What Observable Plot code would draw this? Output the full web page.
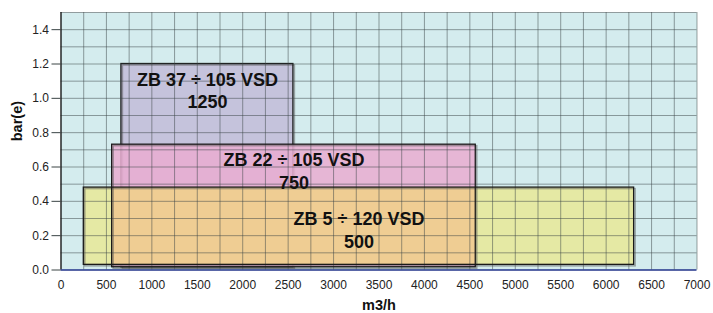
<!DOCTYPE html>
<html><head><meta charset="utf-8">
<script src="https://cdn.jsdelivr.net/npm/d3@7"></script>
<script src="https://cdn.jsdelivr.net/npm/@observablehq/plot@0.6"></script>
<style>
html,body{margin:0;padding:0;background:#fff;}
body{font-family:"Liberation Sans",Arial,sans-serif;}
</style>
</head><body><div id="chart"></div>
<script>
// ---- data ----
const models = ["ZB 37 ÷ 105 VSD", "ZB 22 ÷ 105 VSD", "ZB 5 ÷ 120 VSD"];
const powers = ["1250", "750", "500"];
const flowMin = [665, 563, 251];      // m3/h
const flowMax = [2558, 4565, 6308];   // m3/h
const pressMin = [0.016, 0.016, 0.030]; // bar(e)
const pressMax = [1.2, 0.73, 0.48];     // bar(e)
const labelPress = [1.05, 0.58, 0.236]; // label block centre
const boxFills = ["#c5c3dc", "#e8aed1", "#e7e899"];
const overlapFill = "#efcb91";
const xTicks = [0, 500, 1000, 1500, 2000, 2500, 3000, 3500, 4000, 4500, 5000, 5500, 6000, 6500, 7000];
const yTicks = [0, 0.2, 0.4, 0.6, 0.8, 1.0, 1.2, 1.4];
const xGrid = d3.range(0, 7001, 250);
const yGrid = d3.range(0, 15).map(i => +(i / 10 + 0.1).toFixed(1));

const boxes = models.map((m, i) => ({
  model: m, power: powers[i], x1: flowMin[i], x2: flowMax[i],
  y1: pressMin[i], y2: pressMax[i], fill: boxFills[i], ly: labelPress[i]
}));
const back = [boxes[0]];
const front = [boxes[1], boxes[2]];
// overlap of the ZB 22 and ZB 5 ranges
const a = boxes[1], b = boxes[2];
const overlap = [{
  x1: Math.max(a.x1, b.x1), x2: Math.min(a.x2, b.x2),
  y1: Math.max(a.y1, b.y1), y2: Math.min(a.y2, b.y2)
}];
const R = {x1: "x1", x2: "x2", y1: "y1", y2: "y2"};

const chart = Plot.plot({
  width: 713,
  height: 313,
  marginLeft: 60.5,
  marginRight: 16.5,
  marginTop: 12,
  marginBottom: 43.5,
  style: {background: "#fff", fontFamily: "'Liberation Sans', Arial, sans-serif", fontSize: "12px", color: "#222"},
  x: {domain: [0, 7000]},
  y: {domain: [0, 1.5]},
  marks: [
    Plot.frame({fill: "#d4ecee", stroke: null}),
    Plot.rect(back, {...R, fill: "fill"}),
    Plot.rect(back, {...R, fill: null, stroke: "#555", strokeOpacity: 0.5, strokeWidth: 1.5, dx: 1.5, dy: 1.5}),
    Plot.rect(back, {...R, fill: null, stroke: "#1a1a1a", strokeWidth: 1.3}),
    Plot.rect(front, {...R, fill: "fill", fillOpacity: 0.87}),
    Plot.rect(overlap, {...R, fill: overlapFill, fillOpacity: 0.9}),
    Plot.ruleX(xGrid, {stroke: "#3a4445", strokeOpacity: 0.5, strokeWidth: 1}),
    Plot.ruleY(yGrid, {stroke: "#3a4445", strokeOpacity: 0.5, strokeWidth: 1}),
    Plot.rect(front, {...R, fill: null, stroke: "#555", strokeOpacity: 0.5, strokeWidth: 1.5, dx: 1.5, dy: 1.5}),
    Plot.rect(front, {...R, fill: null, stroke: "#1a1a1a", strokeWidth: 1.3}),
    Plot.ruleX([0], {stroke: "#111", strokeWidth: 1.2}),
    Plot.ruleY([0], {stroke: "#22338a", strokeWidth: 1.5}),
    Plot.axisY({ticks: yTicks, tickFormat: d3.format(".1f"), tickSize: 9, tickPadding: 3, stroke: "#3a4445", label: null, fontSize: 12}),
    Plot.axisX({ticks: xTicks, tickFormat: d3.format("d"), tickSize: 0, tickPadding: 10, label: null, fontSize: 12}),
    Plot.text(boxes, {x: d => (d.x1 + d.x2) / 2, y: "ly", text: d => d.model + "\n" + d.power,
      fontSize: 18, fontWeight: "bold", fill: "#111", lineHeight: 1.24, lineAnchor: "middle"}),
    Plot.text(["m3/h"], {frameAnchor: "bottom", dy: 35, lineAnchor: "middle", fontSize: 14.5, fontWeight: "bold", fill: "#111"}),
    Plot.text(["bar(e)"], {frameAnchor: "left", dx: -43.5, rotate: -90, lineAnchor: "middle", fontSize: 14.5, fontWeight: "bold", fill: "#111"})
  ]
});
document.getElementById("chart").appendChild(chart);
</script>
</body></html>
